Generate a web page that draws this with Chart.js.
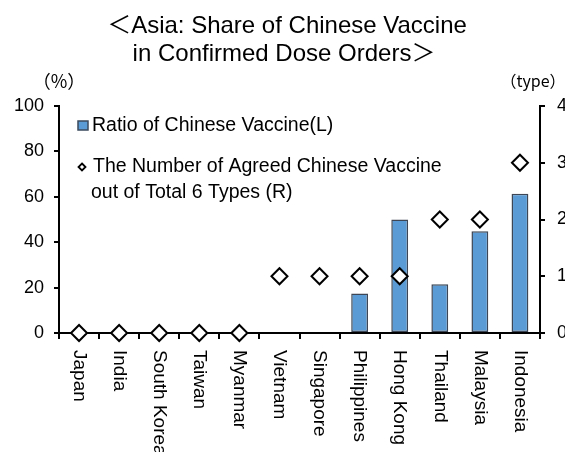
<!DOCTYPE html>
<html><head><meta charset="utf-8">
<script src="https://cdn.jsdelivr.net/npm/chart.js@4"></script>
<style>html,body{margin:0;padding:0;background:#fff}#wrap{width:565px;height:452px;position:relative}</style>
</head><body><div id="wrap"><canvas id="c"></canvas></div>
<script>
const categories = ["Japan","India","South Korea","Taiwan","Myanmar","Vietnam","Singapore","Philippines","Hong Kong","Thailand","Malaysia","Indonesia"];
const ratioChinese = [0,0,0,0,0,0,0,17.4,50,21.5,44.8,61.3];
const agreedTypes = [0,0,0,0,0,1,1,1,1,2,2,3];
const leftTicks = [0,20,40,60,80,100];
const rightTicks = [0,1,2,3,4];
const titleLines = ["＜Asia: Share of Chinese Vaccine","in Confirmed Dose Orders＞"];
const legendLabels = ["Ratio of Chinese Vaccine(L)","The Number of Agreed Chinese Vaccine","out of Total 6 Types (R)"];

const FONT = '"Liberation Sans","Noto Sans CJK JP",sans-serif';
const AXIS_BOTTOM = 452 - 333;

const overlay = {
  id:'overlay',
  afterDraw(chart){
    const ctx = chart.ctx;
    const x = chart.scales.x, ca = chart.chartArea;
    ctx.save();
    ctx.fillStyle = '#000';
    // title
    ctx.font = '24px ' + FONT;
    ctx.textAlign = 'center'; ctx.textBaseline = 'middle';
    ctx.fillText(titleLines[0], 287, 26);
    ctx.fillText(titleLines[1], 284, 54);
    // units
    ctx.font = '18px "Noto Sans CJK JP",' + FONT;
    ctx.fillText('（%）', 59, 81);
    ctx.font = '16px "Noto Sans CJK JP",' + FONT;
    ctx.fillText('（type）', 533, 81);
    // legend
    ctx.textAlign = 'left';
    ctx.font = '19.5px ' + FONT;
    ctx.fillStyle = '#5B9BD5'; ctx.strokeStyle = '#3a4a5c'; ctx.lineWidth = 1.5;
    ctx.fillRect(78, 121, 10, 9); ctx.strokeRect(78, 121, 10, 9);
    ctx.fillStyle = '#000';
    ctx.fillText(legendLabels[0], 92, 126);
    ctx.beginPath();
    ctx.moveTo(82, 163.5); ctx.lineTo(85.5, 167); ctx.lineTo(82, 170.5); ctx.lineTo(78.5, 167); ctx.closePath();
    ctx.fillStyle = '#fff'; ctx.fill(); ctx.strokeStyle = '#000'; ctx.lineWidth = 1.8; ctx.stroke();
    ctx.fillStyle = '#000';
    ctx.fillText(legendLabels[1], 93, 167);
    ctx.fillText(legendLabels[2], 91, 193);
    // x labels rotated
    ctx.font = '19px ' + FONT;
    ctx.textBaseline = 'middle';
    categories.forEach((lab, i) => {
      const px = x.getPixelForValue(i);
      ctx.save();
      ctx.translate(px, ca.bottom + 17);
      ctx.rotate(Math.PI/2);
      ctx.fillText(lab, 0, 0);
      ctx.restore();
    });
    ctx.restore();
  }
};

new Chart(document.getElementById('c'), {
  type:'bar',
  data:{
    labels: categories,
    datasets:[
      {type:'bar', label:legendLabels[0], data: ratioChinese, yAxisID:'y', order:2,
       backgroundColor:'#5B9BD5', borderColor:'#3c4654', borderWidth:1.5, borderSkipped:false,
       barPercentage:0.42, categoryPercentage:1},
      {type:'line', label:legendLabels[1], data: agreedTypes, yAxisID:'y1', order:1,
       showLine:false, pointStyle:'rectRot', pointRadius:8, pointHoverRadius:8,
       pointBackgroundColor:'#fff', pointBorderColor:'#000', pointBorderWidth:2, clip:false}
    ]
  },
  options:{
    responsive:true, maintainAspectRatio:false, animation:false,
    layout:{padding:{top:106, left:0, right:0, bottom:0}},
    plugins:{legend:{display:false}, title:{display:false}, tooltip:{enabled:false}},
    scales:{
      x:{
        grid:{display:true, drawOnChartArea:false, drawTicks:true, tickLength:6, color:'#000', lineWidth:2, offset:true},
        border:{display:true, color:'#000', width:2},
        ticks:{display:false},
        afterFit(s){ s.height = AXIS_BOTTOM; }
      },
      y:{
        position:'left', min:0, max:100,
        afterBuildTicks(s){ s.ticks = leftTicks.map(v=>({value:v})); },
        grid:{drawOnChartArea:false, tickLength:5, color:'#000', lineWidth:2},
        border:{display:true, color:'#000', width:2},
        ticks:{color:'#000', font:{family:FONT, size:18}, padding:10},
        afterFit(s){ s.width = 59; }
      },
      y1:{
        position:'right', min:0, max:4,
        afterBuildTicks(s){ s.ticks = rightTicks.map(v=>({value:v})); },
        grid:{drawOnChartArea:false, tickLength:5, color:'#000', lineWidth:2},
        border:{display:true, color:'#000', width:2},
        ticks:{color:'#000', font:{family:FONT, size:18}, padding:12},
        afterFit(s){ s.width = 25; }
      }
    }
  },
  plugins:[overlay]
});
</script></body></html>
